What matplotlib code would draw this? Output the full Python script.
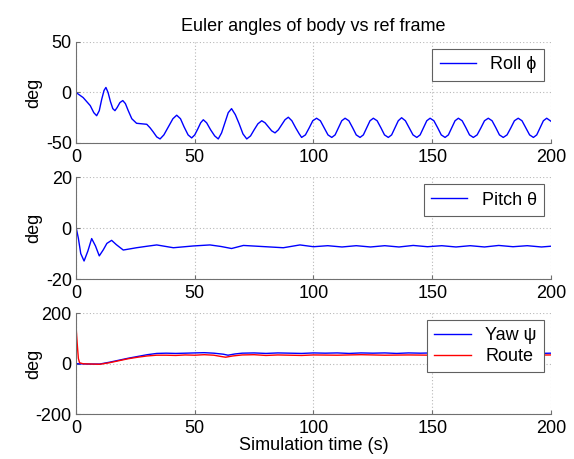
import matplotlib.pyplot as plt

plt.rcParams["font.family"] = ["Liberation Sans", "DejaVu Sans"]
plt.rcParams["font.size"] = 13
plt.rcParams["axes.unicode_minus"] = False

# roll (deg)
roll_t = [0, 1.5, 3, 4.5, 6, 7.5, 8.7, 9.8, 10.8, 11.8, 12.6, 13.5, 14.5, 15.5, 16.4,
          17.3, 18.5, 19.7, 20.8, 22, 23.5, 25.5, 27.5, 29.8, 31.2, 32.5, 34, 35.4,
          37, 38.9, 40.8, 42.4, 44, 45.5, 47.2, 48.7, 50, 51.3, 52.5, 53.6, 55, 56.7,
          58.4, 59.9, 61.3, 62.7, 64.1, 65.5, 67.1, 68.7, 70.3, 71.9, 73.5, 75, 76.6,
          78.2, 79.6, 81, 82.4, 83.8, 85.2, 86.6, 88, 89.4, 90.9, 92.5, 94,
          95.0, 96.6, 98.2, 99.7, 101.3, 102.9, 104.5, 106.1, 107.7, 109.1, 110.5,
          111.9, 113.3, 114.9, 116.5, 118.0, 119.6, 121.0, 122.4, 123.8, 125.2, 126.8,
          128.4, 129.9, 131.5, 132.9, 134.3, 135.7, 137.1, 138.7, 140.3, 141.9, 143.5,
          144.9, 146.3, 147.7, 149.1, 150.7, 152.3, 153.8, 155.4, 156.8, 158.2, 159.6,
          161.0, 162.6, 164.2, 165.7, 167.3, 168.9, 170.5, 172.0, 173.6, 175.2, 176.8,
          178.3, 179.9, 181.5, 183.1, 184.6, 186.2, 187.8, 189.4, 191.0, 192.6, 194.0,
          195.4, 196.8, 198.2, 200.0]
roll_v = [0, -2.5, -5, -9, -13, -20, -23, -18, -7, 2, 5, 0, -9, -16, -18,
          -15, -10, -8, -11, -18, -26, -30.5, -31, -31.5, -35, -39, -44, -46,
          -42, -34, -26, -22.5, -26, -34, -42, -45, -42, -36, -30, -27, -30, -37,
          -43, -46, -40, -30, -20, -16, -22, -31, -41, -46, -43, -37, -31,
          -28, -30, -34, -38, -40, -37, -32, -27, -24.5, -28, -35, -41,
          -44.5, -42, -35, -28, -25.5, -28, -35, -42, -44.5, -42, -35,
          -28, -25.5, -28, -35, -42, -44.5, -42, -35, -28, -25.5, -28,
          -35, -42, -44.5, -42, -35, -28, -25, -28, -35, -42, -44.5,
          -42, -35, -28, -25.5, -28, -35, -42, -44.5, -42, -35, -28,
          -25.5, -28, -35, -42, -44.5, -42, -35, -28, -25.5, -28, -35,
          -42, -44.5, -42, -35, -28, -25.5, -28, -35, -42, -44.5, -42,
          -35, -28, -25.5, -28.5]

# pitch (deg)
pitch_t = [0, 1, 2, 3.4, 5, 6.6, 8.2, 9.8, 11.5, 13, 15, 17, 19.9, 25.5, 30, 34, 41,
           49.4, 56.4, 61, 65.5, 70.5, 78, 87.3, 94.3, 100, 106, 112, 118, 124, 130,
           136, 142, 148, 154, 160, 166, 172, 178, 184, 190, 196, 200]
pitch_v = [0.5, -4, -10, -12.9, -9, -4.1, -7, -10.9, -8.5, -6, -4.8, -6.5, -8.6, -7.7,
           -7.1, -6.6, -7.7, -7.0, -6.6, -7.2, -8.0, -6.8, -7.2, -7.7, -6.6, -7.3, -6.9,
           -7.4, -6.9, -7.4, -6.9, -7.4, -6.8, -7.3, -6.9, -7.4, -6.9, -7.4, -6.8, -7.3,
           -6.9, -7.4, -7.1]

# yaw and route (deg)
yaw_t = [0, 1, 5, 10, 14, 18, 22, 26, 30, 34, 38, 42, 46, 50, 54, 58, 62, 64, 67, 70,
         75, 80, 85, 90, 95, 100, 105, 110, 115, 120, 125, 130, 135, 140, 145, 150,
         155, 160, 165, 170, 175, 180, 185, 190, 195, 200]
yaw_v = [0, -1, -2, -2, 5, 13, 21, 28, 35, 40, 41, 40, 41, 42, 43, 41, 37, 33, 38, 41,
         42, 40, 42, 41, 40, 42, 41, 42, 40, 42, 41, 42, 40, 42, 41, 42,
         40, 42, 41, 42, 40, 42, 41, 42, 40, 41]
route_t = [0, 0.5, 1, 1.5, 3, 10, 14, 18, 22, 26, 30, 34, 38, 42, 46, 50, 54, 58, 61,
           63, 66, 70, 75, 80, 85, 90, 95, 100, 110, 120, 130, 140, 150, 160, 170,
           180, 190, 200]
route_v = [150, 80, 20, 3, -1, -3, 3, 11, 19, 25, 30, 33, 33, 32, 34, 33, 35, 33, 28,
           25, 30, 34, 35, 32, 34, 33, 32, 34, 33, 35, 33, 34, 33, 35, 33, 34, 33, 34]

x_ticks = [0, 50, 100, 150, 200]


def style_axes(ax, ylim, yticks):
    ax.set_xlim(0, 200)
    ax.set_ylim(*ylim)
    ax.set_xticks(x_ticks)
    ax.set_yticks(yticks)
    ax.grid(True, color="#b8b8b8", linestyle=(0, (1, 2)), linewidth=0.8)
    for side in ("top", "right"):
        ax.spines[side].set_visible(False)
    for side in ("left", "bottom"):
        ax.spines[side].set_color("#707070")
    ax.tick_params(direction="in", length=3, color="#707070")
    ax.tick_params(axis="x", pad=4)
    ax.tick_params(axis="y", pad=3)
    ax.set_ylabel("deg")
    ax.yaxis.set_label_coords(-0.072, 0.5)


def add_legend(ax):
    leg = ax.legend(loc="upper right", fancybox=False, framealpha=1,
                    edgecolor="#606060", handlelength=2.0, borderaxespad=0.4,
                    borderpad=0.4, labelspacing=0.2, handletextpad=0.8)
    leg.get_frame().set_linewidth(0.8)


fig = plt.figure(figsize=(5.74, 4.59), dpi=100)
left, width = 0.1324, 0.8275
ax1 = fig.add_axes([left, 0.6885, width, 0.22])
ax2 = fig.add_axes([left, 0.392, width, 0.222])
ax3 = fig.add_axes([left, 0.098, width, 0.22])

ax1.plot(roll_t, roll_v, color="#0000ff", lw=1.0, label="Roll ϕ")
style_axes(ax1, (-50, 50), [-50, 0, 50])
add_legend(ax1)
ax1.set_title("Euler angles of body vs ref frame", fontsize=13, pad=8)

ax2.plot(pitch_t, pitch_v, color="#0000ff", lw=1.0, label="Pitch θ")
style_axes(ax2, (-20, 20), [-20, 0, 20])
add_legend(ax2)

ax3.plot(yaw_t, yaw_v, color="#0000ff", lw=1.0, label="Yaw ψ")
ax3.plot(route_t, route_v, color="#ff0000", lw=1.0, label="Route")
style_axes(ax3, (-200, 200), [-200, 0, 200])
add_legend(ax3)
ax3.set_xlabel("Simulation time (s)", labelpad=0)

plt.savefig("out.png", dpi=100)
plt.close(fig)
